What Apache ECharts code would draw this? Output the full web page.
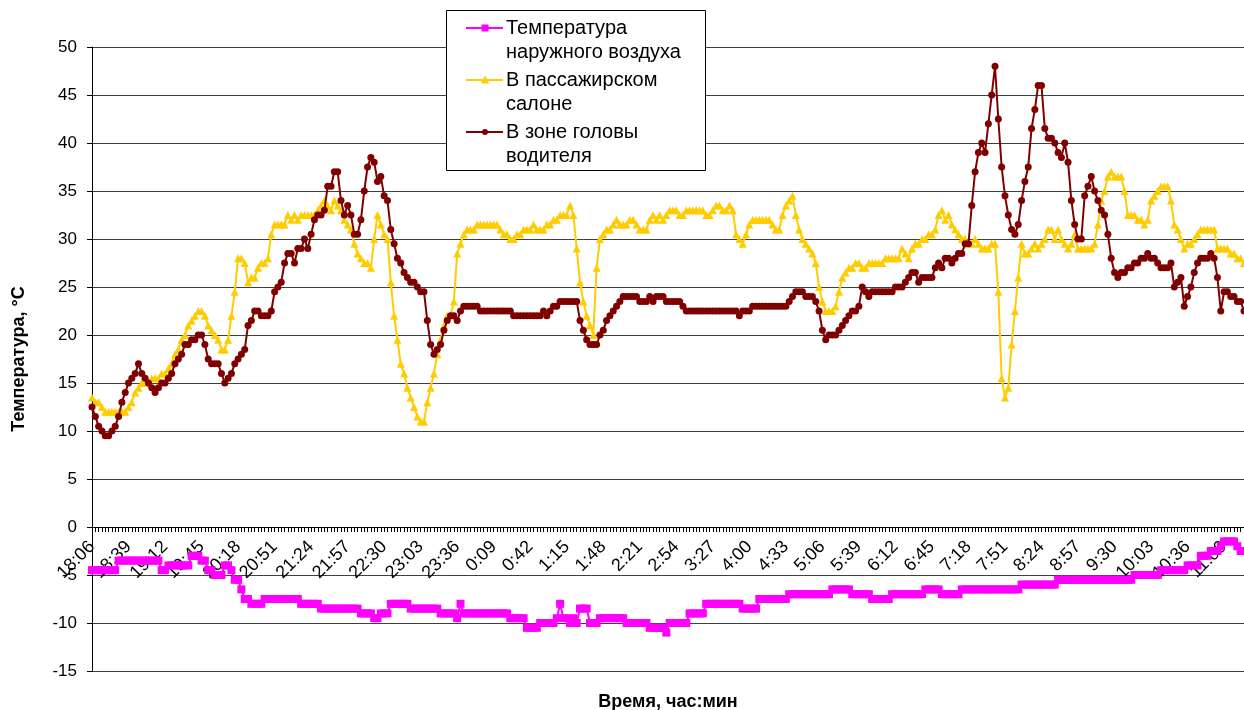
<!DOCTYPE html>
<html>
<head>
<meta charset="utf-8">
<script src="https://cdn.jsdelivr.net/npm/echarts@6/dist/echarts.min.js"></script>
<style>
  html, body { margin: 0; padding: 0; background: #fff; }
  #chart { width: 1244px; height: 710px; }
</style>
</head>
<body>
<div id="chart"></div>
<script>
// Sampling: one reading every 3 minutes, starting at 18:06
const startTime = '18:06';
const stepMinutes = 3;
const sampleCount = 348;

// Series names (legend text)
const seriesNames = ['Температура\nнаружного воздуха', 'В пассажирском\nсалоне', 'В зоне головы\nводителя'];

// Outside air temperature, °C
const outsideAir = [
  -4.5, -4.5, -4.5, -4.5, -4.5, -4.5, -4.5, -4.5, -3.5, -3.5, -3.5,
  -3.5, -3.5, -3.5, -3.5, -3.5, -3.5, -3.5, -3.5, -3.5, -3.5, -4.5,
  -4.5, -4, -4, -4, -4, -4, -4, -4, -3, -3, -3,
  -3.5, -3.5, -4.5, -4.5, -5, -5, -5, -4, -4, -4.5, -5.5,
  -5.5, -6.5, -7.5, -7.5, -8, -8, -8, -8, -7.5, -7.5, -7.5,
  -7.5, -7.5, -7.5, -7.5, -7.5, -7.5, -7.5, -7.5, -8, -8, -8,
  -8, -8, -8, -8.5, -8.5, -8.5, -8.5, -8.5, -8.5, -8.5, -8.5,
  -8.5, -8.5, -8.5, -8.5, -9, -9, -9, -9, -9.5, -9.5, -9,
  -9, -9, -8, -8, -8, -8, -8, -8, -8.5, -8.5, -8.5,
  -8.5, -8.5, -8.5, -8.5, -8.5, -8.5, -9, -9, -9, -9, -9,
  -9.5, -8, -9, -9, -9, -9, -9, -9, -9, -9, -9,
  -9, -9, -9, -9, -9, -9.5, -9.5, -9.5, -9.5, -9.5, -10.5,
  -10.5, -10.5, -10.5, -10, -10, -10, -10, -10, -9.5, -8, -9.5,
  -9.5, -10, -9.5, -10, -8.5, -8.5, -8.5, -10, -10, -10, -9.5,
  -9.5, -9.5, -9.5, -9.5, -9.5, -9.5, -9.5, -10, -10, -10, -10,
  -10, -10, -10, -10.5, -10.5, -10.5, -10.5, -10.5, -11, -10, -10,
  -10, -10, -10, -10, -9, -9, -9, -9, -9, -8, -8,
  -8, -8, -8, -8, -8, -8, -8, -8, -8, -8.5, -8.5,
  -8.5, -8.5, -8.5, -7.5, -7.5, -7.5, -7.5, -7.5, -7.5, -7.5, -7.5,
  -7.5, -7, -7, -7, -7, -7, -7, -7, -7, -7, -7,
  -7, -7, -7, -6.5, -6.5, -6.5, -6.5, -6.5, -6.5, -7, -7,
  -7, -7, -7, -7, -7.5, -7.5, -7.5, -7.5, -7.5, -7.5, -7,
  -7, -7, -7, -7, -7, -7, -7, -7, -7, -6.5, -6.5,
  -6.5, -6.5, -6.5, -7, -7, -7, -7, -7, -7, -6.5, -6.5,
  -6.5, -6.5, -6.5, -6.5, -6.5, -6.5, -6.5, -6.5, -6.5, -6.5, -6.5,
  -6.5, -6.5, -6.5, -6.5, -6.5, -6, -6, -6, -6, -6, -6,
  -6, -6, -6, -6, -6, -5.5, -5.5, -5.5, -5.5, -5.5, -5.5,
  -5.5, -5.5, -5.5, -5.5, -5.5, -5.5, -5.5, -5.5, -5.5, -5.5, -5.5,
  -5.5, -5.5, -5.5, -5.5, -5.5, -5.5, -5, -5, -5, -5, -5,
  -5, -5, -5, -4.5, -4.5, -4.5, -4.5, -4.5, -4.5, -4.5, -4.5,
  -4, -4, -4, -4, -3, -3, -3, -2.5, -2.5, -2.5, -2,
  -1.5, -1.5, -1.5, -1.5, -2, -2.5, -2.5
];

// Passenger compartment temperature, °C
const passengerCabin = [
  13.5, 13.0, 13.0, 12.5, 12.0, 12.0, 12.0, 12.0, 12.0, 12.0, 12.0,
  12.5, 13.0, 14.0, 14.5, 15.0, 15.0, 15.0, 15.5, 15.5, 15.5, 16.0,
  16.0, 16.5, 17.0, 18.0, 18.5, 19.5, 20.0, 21.0, 21.5, 22.0, 22.5,
  22.5, 22.0, 21.0, 20.5, 20.0, 19.5, 18.5, 18.5, 19.5, 22.0, 24.5,
  28.0, 28.0, 27.5, 25.5, 26.0, 26.0, 27.0, 27.5, 27.5, 28.0, 30.5,
  31.5, 31.5, 31.5, 31.5, 32.5, 32.0, 32.5, 32.0, 32.5, 32.5, 32.5,
  32.5, 32.5, 33.0, 33.5, 34.0, 33.5, 33.0, 34.0, 33.5, 33.0, 32.0,
  31.5, 31.0, 29.5, 28.5, 28.0, 27.5, 27.5, 27.0, 30.0, 32.5, 31.5,
  30.5, 30.0, 25.5, 22.0, 19.5, 17.0, 16.0, 14.5, 13.5, 12.5, 11.5,
  11.0, 11.0, 13.0, 14.5, 16.0, 18.0, 19.5, 21.0, 22.0, 22.0, 23.5,
  28.5, 29.5, 30.5, 31.0, 31.0, 31.0, 31.5, 31.5, 31.5, 31.5, 31.5,
  31.5, 31.5, 31.0, 30.5, 30.5, 30.0, 30.0, 30.5, 30.5, 31.0, 31.0,
  31.0, 31.5, 31.0, 31.0, 31.0, 31.5, 31.5, 32.0, 32.0, 32.5, 32.5,
  32.5, 33.5, 32.5, 29.0, 25.5, 23.5, 22.0, 21.0, 20.0, 27.0, 30.0,
  30.5, 31.0, 31.0, 31.5, 32.0, 31.5, 31.5, 31.5, 32.0, 32.0, 31.5,
  31.0, 31.0, 31.0, 32.0, 32.5, 32.0, 32.5, 32.0, 32.5, 33.0, 33.0,
  33.0, 32.5, 32.5, 33.0, 33.0, 33.0, 33.0, 33.0, 33.0, 32.5, 32.5,
  33.0, 33.5, 33.5, 33.0, 33.0, 33.5, 33.0, 30.5, 30.0, 29.5, 30.5,
  31.5, 32.0, 32.0, 32.0, 32.0, 32.0, 32.0, 31.5, 31.0, 31.0, 32.5,
  33.5, 34.0, 34.5, 32.5, 31.0, 30.0, 29.5, 29.0, 28.5, 27.5, 25.0,
  23.5, 22.5, 22.5, 22.5, 23.0, 24.5, 26.0, 26.5, 27.0, 27.0, 27.5,
  27.5, 27.0, 27.0, 27.5, 27.5, 27.5, 27.5, 27.5, 28.0, 28.0, 28.0,
  28.0, 28.0, 29.0, 28.5, 28.0, 29.0, 29.5, 29.5, 30.0, 30.0, 30.5,
  30.5, 31.0, 32.5, 33.0, 32.0, 32.5, 31.5, 31.0, 30.5, 30.0, 30.0,
  29.5, 29.5, 30.0, 29.5, 29.0, 29.0, 29.0, 29.5, 29.5, 24.5, 15.5,
  13.5, 14.5, 19.0, 22.5, 26.0, 29.5, 28.5, 28.5, 29.0, 29.5, 29.0,
  29.5, 30.0, 31.0, 31.0, 30.0, 31.0, 30.0, 29.5, 29.0, 29.5, 30.5,
  29.0, 29.0, 29.0, 29.0, 29.0, 29.5, 31.5, 34.0, 35.0, 36.5, 37.0,
  36.5, 36.5, 36.5, 35.0, 32.5, 32.5, 32.5, 32.0, 32.0, 31.5, 32.0,
  34.0, 34.5, 35.0, 35.5, 35.5, 35.5, 34.0, 31.5, 31.0, 30.0, 29.0,
  29.5, 29.5, 30.0, 30.5, 31.0, 31.0, 31.0, 31.0, 31.0, 29.0, 29.0,
  29.0, 29.0, 28.5, 28.5, 28.0, 28.0, 27.5
];

// Temperature at the driver's head, °C
const driverHead = [
  12.5, 11.5, 10.5, 10.0, 9.5, 9.5, 10.0, 10.5, 11.5, 13.0, 14.0,
  15.0, 15.5, 16.0, 17.0, 16.0, 15.5, 15.0, 14.5, 14.0, 14.5, 15.0,
  15.0, 15.5, 16.0, 17.0, 17.5, 18.0, 19.0, 19.0, 19.5, 19.5, 20.0,
  20.0, 19.0, 17.5, 17.0, 17.0, 17.0, 16.0, 15.0, 15.5, 16.0, 17.0,
  17.5, 18.0, 18.5, 21.0, 21.5, 22.5, 22.5, 22.0, 22.0, 22.0, 22.5,
  24.5, 25.0, 25.5, 27.5, 28.5, 28.5, 27.5, 29.0, 29.0, 30.0, 29.0,
  30.5, 32.0, 32.5, 32.5, 33.0, 35.5, 35.5, 37.0, 37.0, 34.0, 32.5,
  33.5, 32.5, 30.5, 30.5, 32.0, 35.0, 37.5, 38.5, 38.0, 36.0, 36.5,
  34.5, 34.0, 31.0, 29.5, 28.0, 27.5, 26.5, 26.0, 25.5, 25.5, 25.0,
  24.5, 24.5, 21.5, 19.0, 18.0, 18.5, 19.0, 20.5, 21.5, 22.0, 22.0,
  21.5, 22.5, 23.0, 23.0, 23.0, 23.0, 23.0, 22.5, 22.5, 22.5, 22.5,
  22.5, 22.5, 22.5, 22.5, 22.5, 22.5, 22.0, 22.0, 22.0, 22.0, 22.0,
  22.0, 22.0, 22.0, 22.0, 22.5, 22.0, 22.5, 23.0, 23.0, 23.5, 23.5,
  23.5, 23.5, 23.5, 23.5, 21.5, 20.5, 19.5, 19.0, 19.0, 19.0, 20.0,
  20.5, 21.5, 22.0, 22.5, 23.0, 23.5, 24.0, 24.0, 24.0, 24.0, 24.0,
  23.5, 23.5, 23.5, 24.0, 23.5, 24.0, 24.0, 24.0, 23.5, 23.5, 23.5,
  23.5, 23.5, 23.0, 22.5, 22.5, 22.5, 22.5, 22.5, 22.5, 22.5, 22.5,
  22.5, 22.5, 22.5, 22.5, 22.5, 22.5, 22.5, 22.5, 22.0, 22.5, 22.5,
  22.5, 23.0, 23.0, 23.0, 23.0, 23.0, 23.0, 23.0, 23.0, 23.0, 23.0,
  23.0, 23.5, 24.0, 24.5, 24.5, 24.5, 24.0, 24.0, 24.0, 23.5, 22.5,
  20.5, 19.5, 20.0, 20.0, 20.0, 20.5, 21.0, 21.5, 22.0, 22.5, 22.5,
  23.0, 25.0, 24.5, 24.0, 24.5, 24.5, 24.5, 24.5, 24.5, 24.5, 24.5,
  25.0, 25.0, 25.0, 25.5, 26.0, 26.5, 26.5, 25.5, 26.0, 26.0, 26.0,
  26.0, 27.0, 27.5, 27.0, 28.0, 28.0, 27.5, 28.0, 28.5, 28.5, 29.5,
  29.5, 33.5, 37.0, 39.0, 40.0, 39.0, 42.0, 45.0, 48.0, 42.5, 37.5,
  34.5, 32.5, 31.0, 30.5, 31.5, 34.0, 36.0, 37.5, 41.5, 43.5, 46.0,
  46.0, 41.5, 40.5, 40.5, 40.0, 39.0, 38.5, 40.0, 38.0, 34.0, 31.5,
  30.0, 30.0, 34.5, 35.5, 36.5, 35.0, 34.0, 33.0, 32.5, 30.5, 28.0,
  26.5, 26.0, 26.5, 26.5, 27.0, 27.0, 27.5, 27.5, 28.0, 28.0, 28.5,
  28.0, 28.0, 27.5, 27.0, 27.0, 27.0, 27.5, 25.0, 25.5, 26.0, 23.0,
  24.0, 25.0, 26.5, 27.5, 28.0, 28.0, 28.0, 28.5, 28.0, 26.0, 22.5,
  24.5, 24.5, 24.0, 24.0, 23.5, 23.5, 22.5
];

// Y axis range, °C
const yMin = -15, yMax = 50, yStep = 5;

// Time-of-day category labels (H:MM)
function buildTimes(start, step, count) {
  const [h0, m0] = start.split(':').map(Number);
  const out = [];
  for (let k = 0; k < count; k++) {
    const t = (h0 * 60 + m0 + k * step) % 1440;
    out.push(Math.floor(t / 60) + ':' + String(t % 60).padStart(2, '0'));
  }
  return out;
}
const timeLabels = buildTimes(startTime, stepMinutes, sampleCount);

const FONT = '"Liberation Sans", Arial, sans-serif';
const colors = ['#FF00FF', '#FFCC00', '#800000'];
const symbols = ['rect', 'triangle', 'circle'];
const symbolSizes = [8, 8, 7];

const W = 1244, gridLeft = 92, gridTop = 47, gridBottom = 39, chartH = 710;
const plotH = chartH - gridTop - gridBottom;
// distance from the plot bottom up to the zero line
const zeroLift = plotH * (0 - yMin) / (yMax - yMin);

const chart = echarts.init(document.getElementById('chart'), null, { renderer: 'canvas' });

// Legend block drawn as a framed box with line+marker samples
const legendLeft = 446, legendTop = 10, legendW = 259, legendH = 160;
const legendRowY = [28, 80, 132];
const legendGraphics = [{
  type: 'rect',
  shape: { x: legendLeft + 0.5, y: legendTop + 0.5, width: legendW, height: legendH },
  style: { fill: '#fff', stroke: '#000', lineWidth: 1 },
  z: 100
}];
seriesNames.forEach((name, k) => {
  const y = legendRowY[k];
  legendGraphics.push({
    type: 'line',
    shape: { x1: 466, y1: y, x2: 503, y2: y },
    style: { stroke: colors[k], lineWidth: 2 },
    z: 101
  });
  const sz = symbolSizes[k] - 1;
  let marker;
  if (symbols[k] === 'rect') {
    marker = { type: 'rect', shape: { x: 485 - sz / 2, y: y - sz / 2, width: sz, height: sz } };
  } else if (symbols[k] === 'triangle') {
    marker = { type: 'polygon', shape: { points: [[485, y - sz / 2 - 1], [485 - sz / 2 - 0.5, y + sz / 2], [485 + sz / 2 + 0.5, y + sz / 2]] } };
  } else {
    marker = { type: 'circle', shape: { cx: 485, cy: y, r: sz / 2 } };
  }
  marker.style = { fill: colors[k] };
  marker.z = 102;
  legendGraphics.push(marker);
  legendGraphics.push({
    type: 'text',
    left: 506,
    top: y - 12,
    style: {
      text: name,
      fill: '#000',
      font: '20px ' + FONT,
      lineHeight: 24,
      verticalAlign: 'top'
    },
    z: 101
  });
});

const option = {
  animation: false,
  backgroundColor: '#fff',
  textStyle: { fontFamily: FONT },
  grid: { left: gridLeft, right: 0, top: gridTop, bottom: gridBottom, containLabel: false, outerBoundsMode: 'none' },
  xAxis: {
    type: 'category',
    data: timeLabels,
    boundaryGap: false,
    position: 'bottom',
    offset: -zeroLift,
    axisLine: { onZero: false, lineStyle: { color: '#000', width: 1 } },
    axisTick: { show: true, interval: 0, length: 5, lineStyle: { color: '#000' } },
    axisLabel: {
      interval: 10,
      rotate: 45,
      fontSize: 18,
      color: '#000',
      fontFamily: FONT,
      margin: 17
    },
    splitLine: { show: false }
  },
  yAxis: {
    type: 'value',
    min: yMin,
    max: yMax,
    interval: yStep,
    name: 'Температура, °С',
    nameLocation: 'middle',
    nameRotate: 90,
    nameGap: 64,
    nameTextStyle: { fontSize: 18, fontWeight: 'bold', color: '#000', fontFamily: FONT },
    axisLine: { show: true, lineStyle: { color: '#000', width: 1 } },
    axisTick: { show: true, length: 5, lineStyle: { color: '#000' } },
    axisLabel: { fontSize: 17, color: '#000', margin: 15, fontFamily: FONT },
    splitLine: { show: true, lineStyle: { color: '#404040', width: 1 } }
  },
  graphic: legendGraphics.concat([{
    type: 'text',
    x: (gridLeft + W) / 2,
    y: 702,
    style: {
      text: 'Время, час:мин',
      fill: '#000',
      font: 'bold 18px ' + FONT,
      align: 'center',
      verticalAlign: 'middle'
    }
  }]),
  series: [outsideAir, passengerCabin, driverHead].map((vals, k) => ({
    name: seriesNames[k],
    type: 'line',
    data: vals,
    symbol: symbols[k],
    symbolSize: symbolSizes[k],
    showAllSymbol: true,
    lineStyle: { color: colors[k], width: 2 },
    itemStyle: { color: colors[k], borderWidth: 0 },
    z: 2 + k
  }))
};

chart.setOption(option);
</script>
</body>
</html>
